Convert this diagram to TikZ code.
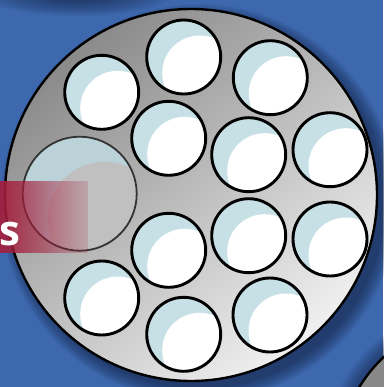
\documentclass[tikz,border=0pt]{standalone}
\usepackage{fontspec}
\newfontfamily\bannerfont{Open Sans}
\usetikzlibrary{fadings}
\definecolor{bgblue}{RGB}{61,104,174}
\definecolor{shadowblue}{RGB}{20,35,70}
\definecolor{crescent}{RGB}{198,224,229}
\definecolor{bigcres}{RGB}{186,210,216}
\definecolor{biginner}{RGB}{192,192,192}
\definecolor{bannerred}{RGB}{166,30,60}
\definecolor{plateA}{RGB}{138,138,138}
\definecolor{plateB}{RGB}{240,240,240}
\definecolor{cornergrey}{RGB}{136,136,136}
\tikzfading[name=bannerfade, left color=transparent!8, right color=transparent!85]
\begin{document}
\begin{tikzpicture}[x=1pt,y=-1pt,
  hole/.style={circle, draw=black, line width=2.9pt, fill=crescent, minimum size=74pt, inner sep=0pt,
    path picture={\fill[white] ([shift={(16,16)}]path picture bounding box.center) circle (37.5);}},
  bighole/.style={circle, draw=black!80, line width=1.8pt, fill=bigcres, minimum size=114pt, inner sep=0pt,
    path picture={\fill[biginner] ([shift={(25,25)}]path picture bounding box.center) circle (57);}},
  plate/.style={draw=black, line width=2.4pt},
  bannertext/.style={font=\bannerfont\bfseries\fontsize{42}{42}\selectfont, text=white, inner sep=0pt}
]
\useasboundingbox (0,0) rectangle (383,387);
\fill[bgblue] (0,0) rectangle (383,387);
% soft shadow at the top left
\foreach \i in {0,...,11}{
  \fill[shadowblue, opacity=0.07] (78,-6) ellipse ({95-\i*6} and {22-\i*1.4});
}
% drop shadow of the main plate
\foreach \i in {0,...,11}{
  \fill[shadowblue, opacity=0.07] (199,203) circle ({199-\i*1.3});
}
% shadow and corner plate
\foreach \i in {0,...,9}{
  \fill[shadowblue, opacity=0.06] (478,458) circle ({155-\i*1.4});
}
\path[plate, fill=cornergrey] (480,460) circle (141);
\coordinate (cornerc) at (480,460);
% main plate
\path[plate, top color=plateA, bottom color=plateB, shading angle=40] (191,195) circle (186);
\coordinate (platec) at (191,195);
% holes
\node[hole] (h1) at (101.7,92.3) {};
\node[hole] (h2) at (183.7,57) {};
\node[hole] (h3) at (270.3,77.7) {};
\node[hole] (h4) at (168.7,138.3) {};
\node[hole] (h5) at (248.7,154.7) {};
\node[hole] (h6) at (330,149.7) {};
\node[hole] (h8) at (168.7,250.3) {};
\node[hole] (h9) at (248.7,235.7) {};
\node[hole] (h10) at (330,239) {};
\node[hole] (h11) at (101.7,298) {};
\node[hole] (h12) at (183.7,334.3) {};
\node[hole] (h13) at (270,315) {};
\node[bighole] (big) at (79.7,193.7) {};
% banner
\fill[bannerred, path fading=bannerfade] (0,181) rectangle (88,253);
\node[bannertext, anchor=base west] (s) at (-0.5,245) {s};
\end{tikzpicture}
\end{document}
